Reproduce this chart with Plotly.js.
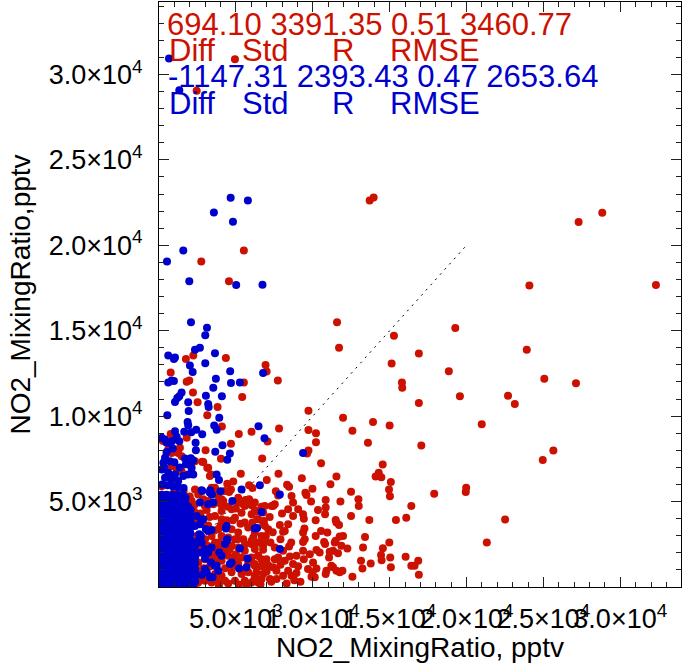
<!DOCTYPE html>
<html>
<head>
<meta charset="utf-8">
<script src="https://cdn.plot.ly/plotly-3.0.1.min.js"></script>
<style>html,body{margin:0;padding:0;background:#fff;}#chart{width:685px;height:663px;}</style>
</head>
<body>
<div id="chart"></div>
<script>
// ---- data (pptv) ----
const redPoints = [
 [13700,22620],[13960,22800],[27290,21360],[28830,21910],[24090,17650],[32320,17670],[11580,15490],[19270,15160],[15280,14710],[11710,14010],
 [23920,13880],[16900,13660],[15130,13080],[18850,12630],[25060,12190],[27120,11930],[15800,11970],[15820,11660],[19570,11160],[22700,11200],
 [23140,10710],[16900,10770],[9720,10320],[11970,9910],[13920,9660],[15000,9450],[20990,9520],[9720,9190],[12580,9150],[10210,9000],
 [10210,8470],[13590,8440],[17060,8280],[25650,7990],[24960,7440],[9720,7990],[9630,7810],[10540,7250],[14550,7170],[14290,6690],
 [14090,6470],[14460,6430],[11540,6470],[9290,6360],[15080,6140],[11150,6020],[9980,5750],[14960,5710],[15020,5310],[19980,5810],
 [19950,5560],[17900,5460],[12490,5580],[9520,5520],[9590,5380],[12970,5130],[12990,4740],[10840,5090],[11800,5000],[9890,5000],
 [16410,4740],[10840,4650],[10340,4510],[12490,4160],[10800,4260],[9370,4260],[9420,4000],[10190,3910],[11490,3920],[11540,3770],
 [11710,3630],[13680,3920],[15410,3920],[16080,4060],[22510,3950],[21320,2600],[10540,3280],[10950,3190],[9460,3420],[9370,3190],
 [10190,2990],[11970,2990],[11750,2960],[13400,2930],[9480,2800],[9370,2640],[10740,2640],[10800,2510],[11490,2700],[11430,2610],
 [11860,2410],[12250,2260],[13270,2310],[14560,2270],[14980,2600],[14440,1880],[14480,1570],[15040,1730],[15080,1150],[16040,1770],
 [16860,1530],[16410,1240],[16620,1240],[16900,720],[13140,1530],[13770,1380],[13230,1090],[12580,600],[10450,2020],[10240,2170],
 [9810,1920],[9370,2120],[9420,1630],[11100,2060],[11320,2120],[11640,1970],[11060,1730],[10020,1440],[10240,1090],[9690,1050],
 [9980,860],[10890,950],[10840,760],[11320,1150],[11540,950],[11750,860],[11930,950],[11210,1240],[9920,600],[10130,570],
 [7730,12090],[6020,9080],[7810,9270],[7060,8510],[6710,7520],[7770,6630],[7010,6260],[8330,5990],[8460,5870],[6080,5790],
 [2750,19050],[5520,19690],[4550,17900],[4940,30890],[2450,29040],
 [1750,13350],[2230,13550],[4350,13410],[760,12550],[6930,12990],[7000,12610],[1800,12010],[1970,12090],[5520,11970],[2210,11390],
 [5410,11120],[2510,10810],[3810,10540],[3140,10050],[4090,9390],[5190,8960],[760,8960],[930,8630],[390,8570],[240,8550],
 [4680,8380],[4030,7500],[2810,7330],[3140,6980],[3380,6590],[4440,6050],[4680,5710],[5320,6630],[4830,6180],[5860,5950],
 [3420,5810],[4560,5560],[3850,5320],[4070,5130],[5630,5090],[7750,5350],[6340,4450],[6770,4360],[7320,4740],[7530,4840],
 [5860,5130],[6120,4840],
 [1800,8730],[600,8050],[500,7850],[820,7850],[1360,8150],[1250,7850],[1470,7660],[3030,8010],[2340,7360],[2880,7310],
 [3200,6980],[820,7070],[1150,6920],[1470,6780],[3310,6490],[3640,5810],[3420,5620],[3850,5420],[4290,5620],[2340,5710],
 [2550,5420],[2880,5130],[3200,5030],[5150,5230],[5480,4840],[6020,4780],[6670,4700],[3530,4840],[4070,4780],[4500,4700],
 [170,5900],[200,5400],
 [2120,5030],[2990,4740],[3850,4940],[4180,5030],[5150,4940],[5580,4740],[6230,4940],[6670,4550],[4070,4450],[4720,4550],
 [5370,4350],[6020,4260],[6450,3970],[6770,3770],[3640,4160],[4070,3970],[4940,4060],[5580,3770],[5800,3480],[6230,3190],
 [6670,2990],[4720,3380],[5150,3190],[3850,3380],[3420,2990],[4070,2990],[4940,2800],[5480,2800],[6020,2700],[6450,2600],
 [6770,2410],[3640,2600],[3850,2310],[4720,2410],[5150,2310],[5580,2120],[6230,2220],[6450,1830],[6020,1730],[5370,1730],
 [4940,1630],[4500,1830],[3420,1830],[2990,1630],[2550,1440],[4070,1540],[5150,1340],[6230,1240],[6670,1240],[2770,860],
 [2340,560],[3200,660],[3640,760],[4070,660],[4720,860],[5370,760],[5800,860],[6230,660],[6670,470],[2550,270],
 [2990,370],[3420,270],[3850,370],[4290,370],[4940,370],[5580,370],[6020,270],[6450,270],[2450,950],[2230,370],
 [6670,1630],[6770,760],[1900,4550],[1900,2800],[2010,2020],[2120,1240],
 [6230,4450],[6390,3970],[6880,4740],[7420,4740],[6820,3870],[6080,3770],[6880,3580],[7100,3380],[6950,2990],[6880,2640],
 [6770,2180],[7250,2600],[7530,2310],[8070,2120],[8460,2370],[6130,2900],[6020,2510],[6450,1830],[6990,1630],[6230,1340],
 [6670,1210],[6340,860],[7100,1280],[7420,1150],[7640,950],[7210,470],[7640,470],[8070,660],[7530,1630],[7750,1730],
 [8180,1540],[8510,1790],[8720,1340],[8940,820],[8620,660],[8180,3280],[8070,3230],[8400,3670],[7860,3630],[8720,4160],
 [8400,4550],[8720,4940],[8620,5330],[9050,4550],[8940,1830],[9050,1210],[8400,950],
 [1000,5700],[1600,5600],[2000,5300],[2300,4800],[2300,4000],[2500,3000],[2600,2000],[2500,1000],[2400,200],
 [2300,4400],[2700,4300],[3100,4500],[3300,4100],[2800,3700],[3200,3600],[3600,3300],[4000,3600],[4400,3900],[4800,3900],
 [5300,3700],[5100,2800],[4500,2900],[3900,2600],[3000,2800],[2700,2300],[3200,2400],[3600,2000],[4200,2100],[4600,2200],
 [5000,1900],[5600,2500],[5800,1400],[5400,1000],[4800,1200],[4300,1100],[3800,1600],[3300,1200],[2900,1100],[2700,600],
 [3400,500],[3900,100],[4500,200],[5200,150],[5700,100],[6200,450],[6600,150],[7000,900],[7300,300],[7900,1300],
 [8300,200],[8800,400],[9200,300],[8600,2600],[7900,2800],[7400,3200],[7200,4100],[8000,4300],[7600,5600],[5000,4600]
];
const bluePoints = [
 [650,30940],[1320,29080],
 [4660,22780],[5780,22620],[3570,21920],[4810,21380],[1580,19690],[520,19050],[1970,17900],[5020,17670],[6730,17690],[2080,15490],[3120,15180],
 [3010,14730],[2660,14010],[2340,13880],[3640,13680],[600,13550],[970,13350],[1040,13430],[2010,12960],[3010,13100],[2190,12590],
 [4630,12630],[6770,12520],[600,11970],[820,12090],[970,12050],[3700,12190],[4680,11940],[5260,11970],[3530,11660],[1470,11390],
 [1320,11160],[1190,11060],[3050,11200],[4090,11160],[1040,10830],[1900,10810],[3200,10710],[3230,10540],[1930,10300],[540,10050],
 [3920,9910],[1860,9660],[1900,9460],[3590,9450],[3750,9210],[2420,9210],[2100,9060],[1640,9080],[2810,8940],[6470,9410],
 [6860,8710],[1040,9110],[1150,8790],[1320,8530],[840,8530],[500,8440],[390,8630],[4130,8300],[2400,8010],[3660,7910],
 [4610,7810],[4440,7450],[2060,7540],[2230,7410],[1750,7190],[2120,6690],[3750,6590],[3900,6260],[5370,5700],[2810,5620],
 [3330,5670],[3440,5420],[4000,5600],[4770,5030],[9370,7850],[6560,5950],[7860,5420],[6670,4390],[6230,3420],[6380,3460],
 [7860,2220],[4400,3570],[4350,3420],[2770,3910],[2880,3970],[3050,3380],[2620,3090],[2730,2990],[3420,2310],[4440,2800],
 [3920,2020],[4070,1830],[5260,2260],[5760,1670],[5690,1150],[5210,1090],[4610,1340],[2990,1670],[3640,1240],[3380,1440],
 [3100,860],[2770,700],[3480,570],
 [180,8730],[710,8440],[2380,8440],[1690,7520],[2080,7500],[390,7560],[710,7360],[280,7270],[1950,7170],[2120,6980],
 [180,6880],[600,6690],[1040,6590],[390,6400],[820,6300],[1250,6200],[1580,6490],[1900,6590],[2230,6590],[2770,5670],[3310,5520],
 [2660,4940],[3200,4840],[3530,4940],[2450,4160],[2660,3670],[2340,3570],[3200,3280],[3420,3340],[2550,2700],[2770,2610],
 [2990,2220],[2770,2020],[3200,2020],[4400,2700],[4290,2510],[4720,1440],[3750,1240],[2990,1050],[3310,570],[3850,950],
 [200,6000],[550,5950],[900,5900],[1250,5850],[1600,5800],[350,7000],[1350,7000],[1000,7300],[500,7900],[900,8100],
 [150,150],[500,150],[850,150],[1200,150],[1550,150],[1900,150],[2200,150],
 [150,500],[500,500],[850,500],[1200,500],[1550,500],[1900,500],[2200,500],
 [150,850],[500,850],[850,850],[1200,850],[1550,850],[1900,850],[2200,850],
 [150,1200],[500,1200],[850,1200],[1200,1200],[1550,1200],[1900,1200],[2200,1200],
 [150,1550],[500,1550],[850,1550],[1200,1550],[1550,1550],[1900,1550],[2200,1550],
 [150,1900],[500,1900],[850,1900],[1200,1900],[1550,1900],[1900,1900],[2200,1900],
 [150,2250],[500,2250],[850,2250],[1200,2250],[1550,2250],[1900,2250],[2200,2250],
 [150,2600],[500,2600],[850,2600],[1200,2600],[1550,2600],[1900,2600],[2200,2600],
 [150,2950],[500,2950],[850,2950],[1200,2950],[1550,2950],[1900,2950],
 [150,3300],[500,3300],[850,3300],[1200,3300],[1550,3300],[1900,3300],
 [150,3650],[500,3650],[850,3650],[1200,3650],[1550,3650],[1900,3650],
 [150,4000],[500,4000],[850,4000],[1200,4000],[1550,4000],[1900,4000],
 [150,4350],[500,4350],[850,4350],[1200,4350],[1550,4350],[1900,4350],
 [150,4700],[500,4700],[850,4700],[1200,4700],[1550,4700],[1900,4700],
 [150,5050],[500,5050],[850,5050],[1200,5050],[1550,5050],
 [150,5400],[500,5400],[850,5400],[1200,5400],[1550,5400],
 [325,325],[675,325],[1025,325],[1375,325],[1725,325],[2050,325],[2350,325],
 [325,675],[675,675],[1025,675],[1375,675],[1725,675],[2050,675],[2350,675],
 [325,1025],[675,1025],[1025,1025],[1375,1025],[1725,1025],[2050,1025],[2350,1025],
 [325,1375],[675,1375],[1025,1375],[1375,1375],[1725,1375],[2050,1375],[2350,1375],
 [325,1725],[675,1725],[1025,1725],[1375,1725],[1725,1725],[2050,1725],[2350,1725],
 [325,2075],[675,2075],[1025,2075],[1375,2075],[1725,2075],[2050,2075],[2350,2075],
 [325,2425],[675,2425],[1025,2425],[1375,2425],[1725,2425],[2050,2425],[2350,2425],
 [325,2775],[675,2775],[1025,2775],[1375,2775],[1725,2775],[2050,2775],
 [325,3125],[675,3125],[1025,3125],[1375,3125],[1725,3125],[2050,3125],
 [325,3475],[675,3475],[1025,3475],[1375,3475],[1725,3475],[2050,3475],
 [325,3825],[675,3825],[1025,3825],[1375,3825],[1725,3825],[2050,3825],
 [325,4175],[675,4175],[1025,4175],[1375,4175],[1725,4175],[2050,4175],
 [325,4525],[675,4525],[1025,4525],[1375,4525],[1725,4525],[2050,4525],
 [325,4875],[675,4875],[1025,4875],[1375,4875],[1725,4875],
 [325,5225],[675,5225],[1025,5225],[1375,5225],[1725,5225]
];
const oneToOneX = [0, 20000];
const oneToOneY = [0, 20000];
const tickVals = [5000, 10000, 15000, 20000, 25000, 30000];
const tickText = ["5.0×10<sup>3</sup>","1.0×10<sup>4</sup>","1.5×10<sup>4</sup>","2.0×10<sup>4</sup>","2.5×10<sup>4</sup>","3.0×10<sup>4</sup>"];
const redStats = "694.10 3391.35 0.51 3460.77";
const blueStats = "-1147.31 2393.43 0.47 2653.64";
const statLabels = ["Diff", "Std", "R", "RMSE"];
const xTitle = "NO2_MixingRatio, pptv";
const yTitle = "NO2_MixingRatio,pptv";

// ---- styles ----
const RED = "rgb(204,17,0)";
const BLUE = "rgb(0,0,204)";
const FONT = "Liberation Sans, Arial, Helvetica, sans-serif";

const traces = [
  {x: oneToOneX, y: oneToOneY, mode: "lines", line: {color: "#000", width: 1, dash: "2px,5px"}, hoverinfo: "skip", showlegend: false},
  {x: redPoints.map(p => p[0]), y: redPoints.map(p => p[1]), mode: "markers", marker: {size: 8, color: RED, line: {width: 0}}, hoverinfo: "skip", showlegend: false},
  {x: bluePoints.map(p => p[0]), y: bluePoints.map(p => p[1]), mode: "markers", marker: {size: 8, color: BLUE, line: {width: 0}}, hoverinfo: "skip", showlegend: false}
];

function axis(range, titleText, standoff, labelStandoff) {
  return {
    range: range, autorange: false,
    tickmode: "array", tickvals: tickVals, ticktext: tickText, tickangle: 0,
    ticks: "inside", ticklen: 10, tickwidth: 1, tickcolor: "#222",
    minor: {ticks: "inside", ticklen: 5, tickwidth: 1, tickcolor: "#222", dtick: 1000, tick0: 0, showgrid: false},
    showline: true, linecolor: "#000", linewidth: 1, mirror: "ticks",
    showgrid: false, zeroline: false,
    tickfont: {family: FONT, size: 27, color: "#000"},
    ticklabelstandoff: labelStandoff,
    title: {text: titleText, font: {family: FONT, size: 28, color: "#000"}, standoff: standoff},
    automargin: false
  };
}

const statWordX = [0.0153, 0.1545, 0.3273, 0.4383];
const annotations = [
  {text: redStats, x: 0.0121, y: 0.9607, color: RED},
  {text: blueStats, x: 0.0140, y: 0.8719, color: BLUE}
];
statLabels.forEach((w, i) => {
  annotations.push({text: w, x: statWordX[i], y: 0.9172, color: RED});
  annotations.push({text: w, x: statWordX[i], y: 0.8258, color: BLUE});
});

const layout = {
  width: 685, height: 663,
  margin: {l: 159, r: 3.5, t: 2, b: 75.5, pad: 0},
  paper_bgcolor: "#fff", plot_bgcolor: "#fff",
  font: {family: FONT, color: "#000"},
  showlegend: false,
  xaxis: axis([0, 33950], xTitle, 0, 8),
  yaxis: axis([0, 34240], yTitle, 9, 10),
  annotations: annotations.map(a => ({
    text: a.text, x: a.x, y: a.y, xref: "paper", yref: "paper",
    xanchor: "left", yanchor: "middle", showarrow: false,
    font: {family: FONT, size: 31, color: a.color}
  }))
};

Plotly.newPlot("chart", traces, layout, {staticPlot: true, displayModeBar: false});
</script>
</body>
</html>
